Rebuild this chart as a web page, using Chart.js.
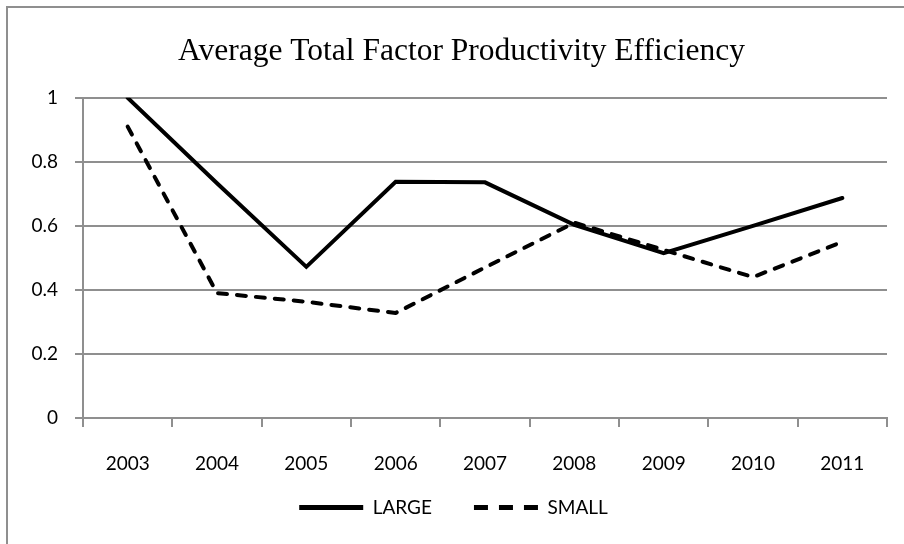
<!DOCTYPE html>
<html>
<head>
<meta charset="utf-8">
<title>Average Total Factor Productivity Efficiency</title>
<script src="https://cdn.jsdelivr.net/npm/chart.js@4.4.1/dist/chart.umd.min.js"></script>
<style>
  html, body { margin: 0; padding: 0; background: #ffffff; }
  #wrap { width: 904px; height: 544px; }
</style>
</head>
<body>
<div id="wrap"><canvas id="chart" width="904" height="544"></canvas></div>
<script>
// Years on the category axis
const years = ['2003', '2004', '2005', '2006', '2007', '2008', '2009', '2010', '2011'];

// Average TFP efficiency per year
const largeValues = [1.00, 0.733, 0.472, 0.738, 0.736, 0.603, 0.515, 0.600, 0.687];
const smallValues = [0.91, 0.390, 0.363, 0.328, 0.470, 0.610, 0.525, 0.440, 0.550];

// Value axis range
const yMin = 0;
const yMax = 1;
const yStep = 0.2;

const AXIS_GREY = '#8f8f8f';
const LABEL_FONT = "Lato, 'Open Sans', sans-serif";
const LABEL_SIZE = 19;
const TITLE_FONT = "'Liberation Serif', 'Times New Roman', serif";

const PAD_LEFT = 20;
const TITLE_SHIFT = 8;   // title sits a little right of the plot centre
const LEGEND_PAD = 42;   // spacing between legend entries
const LEGEND_LIFT = 20;  // pulls the legend row up toward the axis labels

// Thin grey frame around the chart object (top and left edges are visible)
const framePlugin = {
  id: 'frame',
  beforeDraw(chart) {
    const ctx = chart.ctx;
    ctx.save();
    ctx.fillStyle = '#ffffff';
    ctx.fillRect(0, 0, chart.width, chart.height);
    ctx.strokeStyle = AXIS_GREY;
    ctx.lineWidth = 2;
    ctx.beginPath();
    ctx.moveTo(7, chart.height);
    ctx.lineTo(7, 7);
    ctx.lineTo(chart.width, 7);
    ctx.stroke();
    ctx.restore();
  }
};

// Fine placement of the title and legend boxes after layout
const boxNudge = {
  id: 'boxNudge',
  afterLayout(chart) {
    const lg = chart.legend;
    if (lg) { lg.top -= LEGEND_LIFT; lg.height += LEGEND_LIFT; }
    const tb = chart.titleBlock;
    if (tb) { tb.left += TITLE_SHIFT; tb.right += TITLE_SHIFT; }
  }
};

new Chart(document.getElementById('chart'), {
  type: 'line',
  data: {
    labels: years,
    datasets: [
      {
        label: 'LARGE',
        data: largeValues,
        borderColor: '#000000',
        backgroundColor: '#000000',
        borderWidth: 4,
        borderJoinStyle: 'miter',
        borderCapStyle: 'round',
        pointRadius: 0,
        pointHoverRadius: 0,
        tension: 0,
        fill: false
      },
      {
        label: 'SMALL',
        data: smallValues,
        borderColor: '#000000',
        backgroundColor: '#000000',
        borderWidth: 4,
        borderDash: [9, 10],
        borderJoinStyle: 'round',
        borderCapStyle: 'round',
        pointRadius: 0,
        pointHoverRadius: 0,
        tension: 0,
        fill: false
      }
    ]
  },
  options: {
    responsive: false,
    animation: false,
    devicePixelRatio: 1,
    layout: { padding: { left: PAD_LEFT, right: 17, top: 0, bottom: 20 } },
    plugins: {
      tooltip: { enabled: false },
      title: {
        display: true,
        text: 'Average Total Factor Productivity Efficiency',
        color: '#000000',
        font: { family: TITLE_FONT, size: 31.5, weight: 'normal', lineHeight: 1.2 },
        padding: { top: 33, bottom: 27 }
      },
      legend: {
        display: true,
        position: 'bottom',
        maxHeight: 48,
        labels: {
          color: '#000000',
          font: { family: LABEL_FONT, size: LABEL_SIZE },
          usePointStyle: true,
          pointStyle: 'line',
          pointStyleWidth: 64,
          padding: LEGEND_PAD,
          generateLabels(chart) {
            const items = Chart.defaults.plugins.legend.labels.generateLabels(chart);
            items.forEach(it => { it.lineWidth = 5; it.pointStyle = 'line'; });
            items[1].lineDash = [14, 11];
            return items;
          }
        }
      }
    },
    scales: {
      x: {
        type: 'category',
        offset: true,
        afterFit(scale) { scale.height = 58; },
        grid: {
          offset: true,
          drawOnChartArea: false,
          drawTicks: true,
          tickLength: 9,
          color: AXIS_GREY,
          lineWidth: 2
        },
        border: { display: true, color: AXIS_GREY, width: 2 },
        ticks: {
          color: '#000000',
          font: { family: LABEL_FONT, size: LABEL_SIZE },
          padding: 25,
          maxRotation: 0,
          autoSkip: false
        }
      },
      y: {
        min: yMin,
        max: yMax,
        afterFit(scale) { scale.width = 83 - PAD_LEFT; },
        grid: {
          drawOnChartArea: true,
          drawTicks: true,
          tickLength: 8,
          color: AXIS_GREY,
          lineWidth: 2
        },
        border: { display: true, color: AXIS_GREY, width: 2 },
        ticks: {
          stepSize: yStep,
          color: '#000000',
          font: { family: LABEL_FONT, size: LABEL_SIZE },
          padding: 17,
          callback: (v) => String(Number(v.toFixed(1)))
        }
      }
    }
  },
  plugins: [framePlugin, boxNudge]
});
</script>
</body>
</html>
